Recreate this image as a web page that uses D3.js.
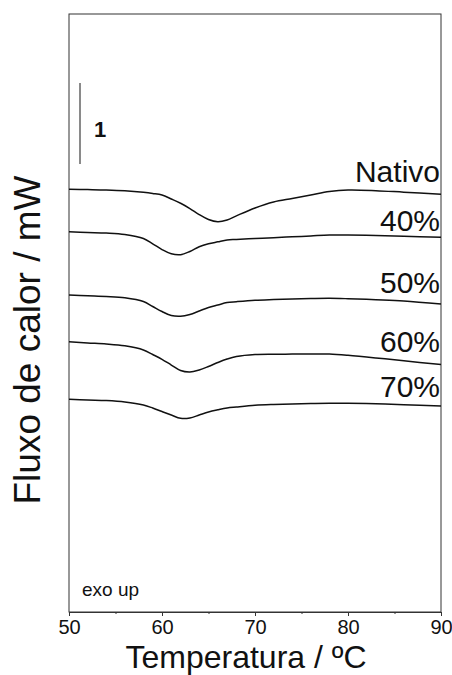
<!DOCTYPE html>
<html>
<head>
<meta charset="utf-8">
<script src="https://cdn.jsdelivr.net/npm/d3@7"></script>
<style>
  html, body { margin: 0; padding: 0; background: #fff; }
  svg { display: block; font-family: "Liberation Sans", Arial, Helvetica, sans-serif; }
</style>
</head>
<body>
<svg id="chart" width="452" height="675"></svg>
<script>
// Temperature grid (ºC) shared by all DSC curves
const temperature = [50, 52, 54, 56, 58, 59, 60, 61, 62, 63, 64, 65, 66, 67, 68, 70, 72, 74, 76, 78, 80, 83, 86, 90];

// Heat flow (mW, curves stacked with vertical offsets)
const nativo = [5.219, 5.215, 5.210, 5.200, 5.181, 5.167, 5.148, 5.099, 5.046, 4.981, 4.907, 4.846, 4.819, 4.840, 4.891, 4.988, 5.062, 5.105, 5.148, 5.191, 5.210, 5.202, 5.183, 5.158];
const pct40  = [4.695, 4.686, 4.678, 4.660, 4.611, 4.546, 4.475, 4.422, 4.411, 4.451, 4.509, 4.546, 4.570, 4.593, 4.599, 4.611, 4.621, 4.632, 4.643, 4.654, 4.654, 4.648, 4.638, 4.626];
const pct50  = [3.914, 3.904, 3.895, 3.879, 3.833, 3.772, 3.710, 3.660, 3.651, 3.673, 3.716, 3.759, 3.790, 3.820, 3.831, 3.849, 3.858, 3.865, 3.870, 3.873, 3.868, 3.856, 3.841, 3.802];
const pct60  = [3.337, 3.322, 3.309, 3.286, 3.235, 3.179, 3.120, 3.049, 2.981, 2.963, 2.988, 3.031, 3.080, 3.123, 3.154, 3.179, 3.183, 3.184, 3.185, 3.184, 3.169, 3.137, 3.101, 3.056];
const pct70  = [2.626, 2.617, 2.610, 2.593, 2.556, 2.519, 2.475, 2.432, 2.391, 2.395, 2.432, 2.469, 2.496, 2.519, 2.531, 2.552, 2.562, 2.568, 2.573, 2.577, 2.577, 2.570, 2.560, 2.543];

const seriesValues = [nativo, pct40, pct50, pct60, pct70];
const seriesLabels = ["Nativo", "40%", "50%", "60%", "70%"];
// Label baseline heights (mW) placed just above each curve
const labelLevels = [5.309, 4.704, 3.935, 3.214, 2.658];

const xTicks = [50, 60, 70, 80, 90];
const xMinorTicks = [55, 65, 75, 85];
const scaleBarFrom = 5.53;   // 1 mW scale bar
const scaleBarSize = 1;

const xDomain = [50, 90];
const yDomain = [0, 7.383];

const svg = d3.select("#chart");
const plotLeft = 69, plotRight = 441, plotTop = 14, plotBottom = 612;

const x = d3.scaleLinear().domain(xDomain).range([plotLeft, plotRight]);
const y = d3.scaleLinear().domain(yDomain).range([plotBottom, plotTop]);

// Plot frame
svg.append("rect")
  .attr("x", plotLeft).attr("y", plotTop)
  .attr("width", plotRight - plotLeft).attr("height", plotBottom - plotTop)
  .attr("fill", "none").attr("stroke", "#333").attr("stroke-width", 1);

// X axis
const xAxis = svg.append("g")
  .attr("transform", `translate(0,${plotBottom})`)
  .call(d3.axisBottom(x).tickValues(xTicks).tickSize(4).tickSizeOuter(0).tickPadding(4).tickFormat(d3.format("d")));
xAxis.select(".domain").attr("stroke", "#333");
xAxis.selectAll(".tick line").attr("stroke", "#333");
xAxis.selectAll(".tick text").attr("font-size", 20).attr("fill", "#111")
  .attr("font-family", "'Liberation Sans', Arial, sans-serif");

const xMinor = svg.append("g")
  .attr("transform", `translate(0,${plotBottom})`)
  .call(d3.axisBottom(x).tickValues(xMinorTicks).tickSize(2).tickSizeOuter(0).tickFormat(""));
xMinor.select(".domain").remove();
xMinor.selectAll(".tick line").attr("stroke", "#333");

// Curves
const line = d3.line()
  .x((d, i) => x(temperature[i]))
  .y(d => y(d))
  .curve(d3.curveCatmullRom.alpha(0.5));

svg.append("g").selectAll("path")
  .data(seriesValues)
  .join("path")
  .attr("d", d => line(d))
  .attr("fill", "none")
  .attr("stroke", "#111")
  .attr("stroke-width", 1.5);

// Curve labels, right aligned
svg.append("g").selectAll("text")
  .data(seriesLabels)
  .join("text")
  .attr("x", x(90) - 1)
  .attr("y", (d, i) => y(labelLevels[i]))
  .attr("text-anchor", "end")
  .attr("font-size", 30)
  .attr("fill", "#111")
  .text(d => d);

// Scale bar
svg.append("line")
  .attr("x1", 80).attr("x2", 80)
  .attr("y1", y(scaleBarFrom)).attr("y2", y(scaleBarFrom + scaleBarSize))
  .attr("stroke", "#8a8a8a").attr("stroke-width", 2);
svg.append("text")
  .attr("x", 94).attr("y", 137)
  .attr("font-size", 22).attr("font-weight", "bold").attr("fill", "#111")
  .text(String(scaleBarSize));

// exo up note
svg.append("text")
  .attr("x", 82).attr("y", 596)
  .attr("font-size", 19).attr("fill", "#111")
  .text("exo up");

// Axis titles
svg.append("text")
  .attr("x", 246).attr("y", 668)
  .attr("text-anchor", "middle")
  .attr("font-size", 32).attr("fill", "#111")
  .text("Temperatura / ºC");

svg.append("text")
  .attr("transform", "translate(40,340) rotate(-90)")
  .attr("text-anchor", "middle")
  .attr("font-size", 37).attr("fill", "#111")
  .text("Fluxo de calor / mW");
</script>
</body>
</html>
